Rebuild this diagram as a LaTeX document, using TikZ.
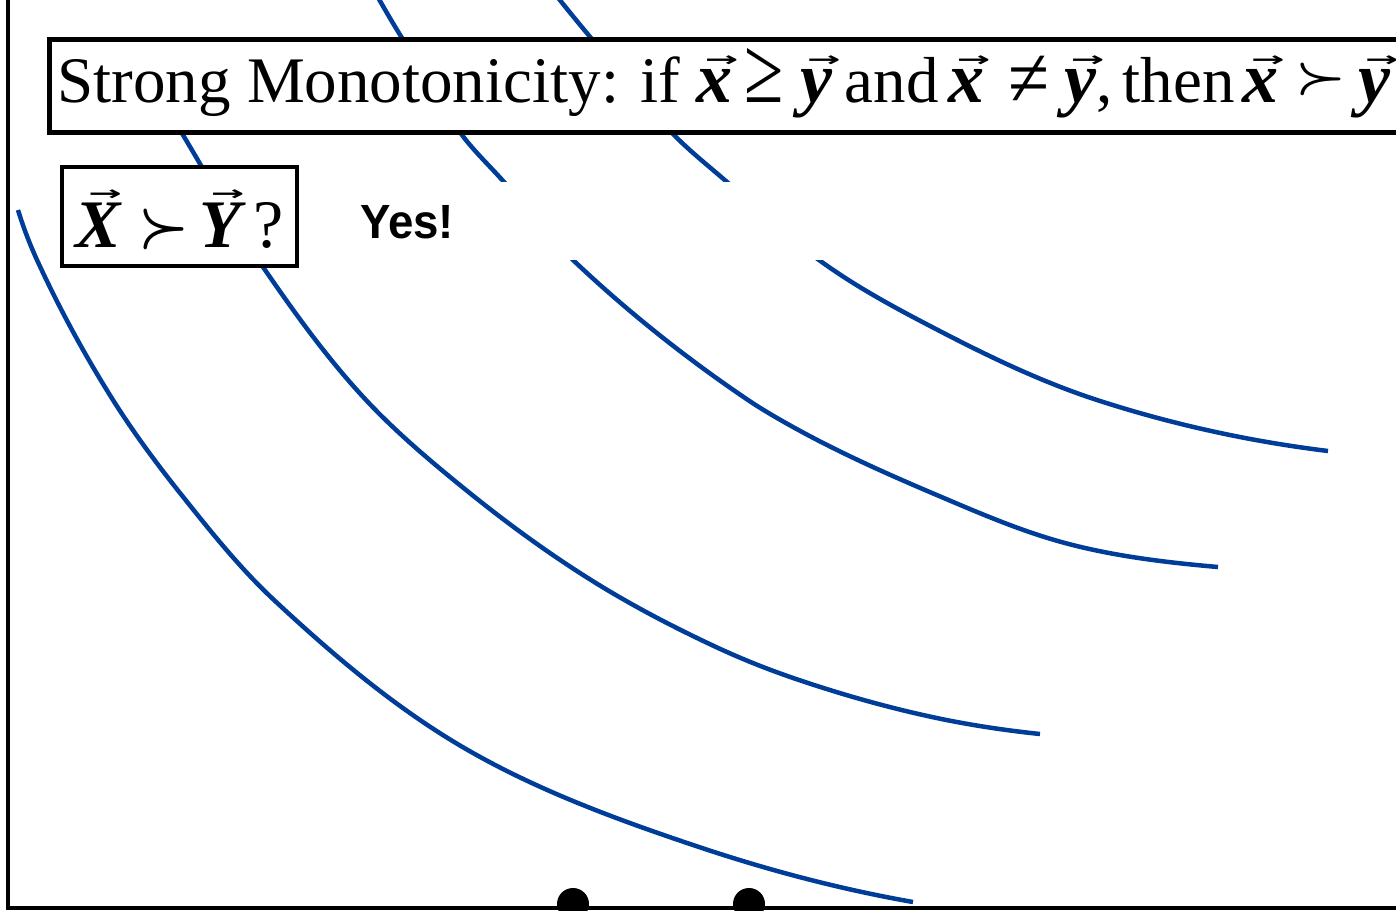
\documentclass[tikz,border=0pt]{standalone}
\usepackage{fontspec}
\usepackage{graphicx}
\setmainfont{Liberation Serif}
\newfontfamily\yesfont{Liberation Sans}
\newfontfamily\arrowfont{DejaVu Sans}
\definecolor{curveblue}{RGB}{0,61,153}
% bold italic letter with a vector arrow
\newcommand\va[1]{{\setbox0=\hbox{\bfseries\itshape #1}\leavevmode\rlap{\hbox to \wd0{\hss\kern14pt\raisebox{\dimexpr\ht0+2pt\relax}{\arrowfont\bfseries\fontsize{40}{40}\selectfont\scalebox{1}[0.5]{→}}\hss}}\box0}}
\newcommand\vt[1]{{\fontsize{72}{72}\selectfont\va{#1}}}
\newcommand\succT{\raisebox{10.9pt}{\scalebox{5.7}[4.85]{\fontsize{10}{12}\selectfont\boldmath$\succ$}}}
\newcommand\succB{\raisebox{2.3pt}{\scalebox{5.7}[6.05]{\fontsize{10}{12}\selectfont\boldmath$\succ$}}}
\newcommand\geqT{\scalebox{1.1}[1.45]{≥}}
\newcommand\neqT{\raisebox{-4pt}{\scalebox{1.15}[1.3]{≠}}}
\begin{document}
\begin{tikzpicture}[x=1pt,y=-1pt,
  curve/.style={curveblue, line width=4.5pt},
  axis/.style={black, line width=4pt},
  titlebox/.style={draw, line width=5pt, fill=white, minimum height=93pt, inner xsep=8pt, inner ysep=0pt,
    text height=48pt, text depth=16pt, font=\fontsize{65}{70}\selectfont},
  qbox/.style={draw, line width=4pt, fill=white, minimum width=235pt, minimum height=99pt, inner sep=0pt,
    text height=70pt, text depth=9pt, font=\fontsize{68}{72}\selectfont},
  yesbox/.style={fill=white, text width=540pt, inner sep=0pt, minimum height=78pt, align=left,
    text height=40pt, text depth=6pt, font=\yesfont\bfseries\fontsize{48}{50}\selectfont},
  dot/.style={circle, fill=black, minimum size=32pt, inner sep=0pt}]
\useasboundingbox (0,0) rectangle (1396,910);
\clip (0,0) rectangle (1396,910);
% indifference curves
\draw[curve] (18,210) .. controls (23.2,227.0) and (29.6,243.8) .. (37,260)
  .. controls (59.2,308.2) and (84.7,355.1) .. (113,400)
  .. controls (133.4,432.3) and (156.2,463.1) .. (180,493)
  .. controls (209.6,530.1) and (239.3,567.6) .. (274,600)
  .. controls (333.2,655.2) and (395.9,708.5) .. (466,749)
  .. controls (539,791.2) and (619.1,820.3) .. (699,847)
  .. controls (768.9,870.4) and (840.4,889.2) .. (913,902);
\draw[curve] (140,63) .. controls (154.2,87.1) and (168.6,111.0) .. (183,135)
  .. controls (209.5,179.1) and (233.9,224.6) .. (263,267)
  .. controls (294.8,313.2) and (327.7,359.0) .. (366,400)
  .. controls (396.6,432.7) and (431.2,461.8) .. (466,490)
  .. controls (505.9,522.3) and (547.5,552.8) .. (591,580)
  .. controls (631.1,605.1) and (673.1,627.0) .. (716,647)
  .. controls (743.0,659.6) and (770.7,670.5) .. (799,680)
  .. controls (842.6,694.7) and (887.1,707.3) .. (932,717)
  .. controls (967.6,724.7) and (1003.8,730.2) .. (1040,734);
\draw[curve] (368,-20) .. controls (379.2,-0.6) and (390.1,19.0) .. (402,38)
  .. controls (422.1,70.2) and (439.1,104.6) .. (462,135)
  .. controls (474.6,151.8) and (490.1,166.3) .. (504,182)
  .. controls (527.0,208.0) and (547.8,236.1) .. (573,260)
  .. controls (627.2,311.4) and (686.1,358.2) .. (748,400)
  .. controls (762.5,409.8) and (777.7,418.5) .. (793,427)
  .. controls (837.9,451.9) and (884.8,472.9) .. (932,493)
  .. controls (975.7,511.5) and (1019.2,530.7) .. (1065,543)
  .. controls (1114.8,556.4) and (1166.6,562.5) .. (1218,567);
\draw[curve] (544,-20) .. controls (559.3,-0.4) and (575.0,18.9) .. (591,38)
  .. controls (618.4,70.6) and (644.1,104.6) .. (674,135)
  .. controls (690.5,151.8) and (709.2,166.5) .. (727,182)
  .. controls (757.4,208.4) and (786.5,236.4) .. (819,260)
  .. controls (854.4,285.8) and (893.1,306.8) .. (932,327)
  .. controls (985.3,354.8) and (1039.8,381.4) .. (1097,400)
  .. controls (1172.0,424.4) and (1249.7,441.4) .. (1328,451);
% boxes
\node[titlebox, anchor=west] (title) at (47,86) {\makebox[1360pt][l]{Strong Monotonicity: if \vt{x}\kern12pt\geqT\kern17pt\vt{y}\kern12pt and\kern10pt\vt{x}\kern24pt\neqT\kern15pt\vt{y},\kern10pt{}then\kern8pt\vt{x}\kern17pt\succT\kern12pt\vt{y}}};
\node[qbox] (q) at (179.5,216.5) {\va{X}\kern18pt\succB\kern10pt\va{Y}\kern12pt?};
\node[yesbox, anchor=west] (yes) at (360,221) {\scalebox{0.95}[1]{Yes!}};
% axes
\coordinate (top) at (8,-5);
\coordinate (origin) at (8,908);
\coordinate (right) at (1400,908);
\draw[axis] (top) -- (origin) -- (right);
\node[dot] (d1) at (573,904) {};
\node[dot] (d2) at (749,904) {};
\end{tikzpicture}
\end{document}
